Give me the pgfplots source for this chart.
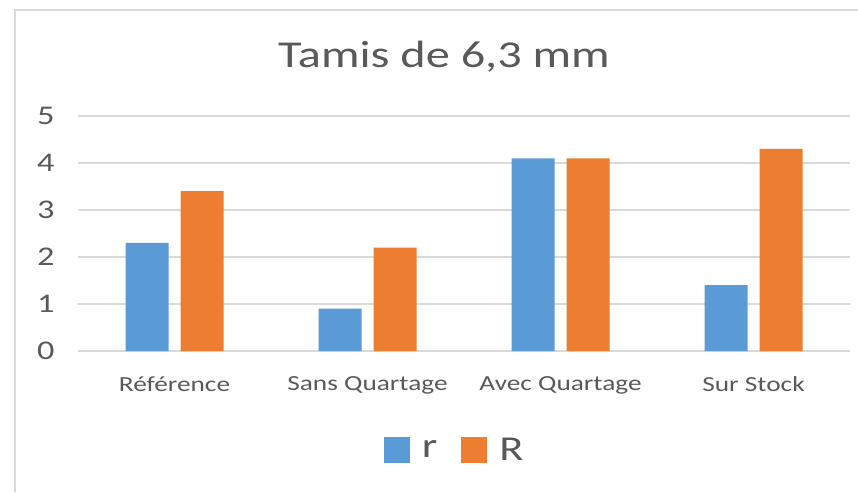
\documentclass[border=0pt]{standalone}
\usepackage{pgfplots}
\pgfplotsset{compat=1.18}
\usepackage{fontspec}
\setmainfont{Carlito}[FakeStretch=1.27]
\definecolor{cblue}{HTML}{5B9BD5}
\definecolor{corange}{HTML}{ED7D31}
\definecolor{ctext}{HTML}{595959}
\definecolor{cgrid}{HTML}{D9D9D9}
\begin{document}
\begin{tikzpicture}
\begin{axis}[
  scale only axis,
  width=772pt, height=235pt,
  xmin=-0.5, xmax=3.5, ymin=0, ymax=5,
  ybar=12pt, bar width=43pt,
  xtick={0,1,2,3},
  xticklabels={Référence,Sans Quartage,Avec Quartage,Sur Stock},
  ytick={0,1,2,3,4,5},
  ymajorgrids, grid style={cgrid, line width=1.2pt},
  axis y line*=left, axis x line*=bottom,
  y axis line style={draw=none},
  x axis line style={cgrid, line width=1.2pt},
  major tick length=0pt,
  /pgf/number format/assume math mode=true,
  yticklabel style={font=\fontsize{27}{27}\selectfont, text=ctext, xshift=-20pt},
  xticklabel style={font=\fontsize{21.5}{21.5}\selectfont, text=ctext, yshift=-22pt},
  title={Tamis de 6,3 mm},
  title style={font=\fontsize{38}{38}\selectfont, text=ctext, at={(0.5,1)}, anchor=center, yshift=53pt, xshift=-20pt},
  legend style={draw=none, at={(0.488,-0.42)}, anchor=center, legend columns=2,
    font=\fontsize{35}{35}\selectfont, text=ctext,
    /tikz/every even column/.append style={column sep=22pt}},
  legend image code/.code={\fill[#1] (0pt,-13pt) rectangle (26pt,13pt); \path (36pt,0pt);},
]
\addplot[fill=cblue, draw=none] coordinates {(0,2.3) (1,0.9) (2,4.1) (3,1.4)};
\addplot[fill=corange, draw=none] coordinates {(0,3.4) (1,2.2) (2,4.1) (3,4.3)};
\legend{r,R}
\end{axis}
\draw[cgrid, line width=1.5pt] (-63pt,-141pt) -- (-63pt,341pt) -- (780pt,341pt);
\pgfresetboundingbox
\useasboundingbox (-78pt,-141pt) rectangle (780pt,351pt);
\end{tikzpicture}
\end{document}
